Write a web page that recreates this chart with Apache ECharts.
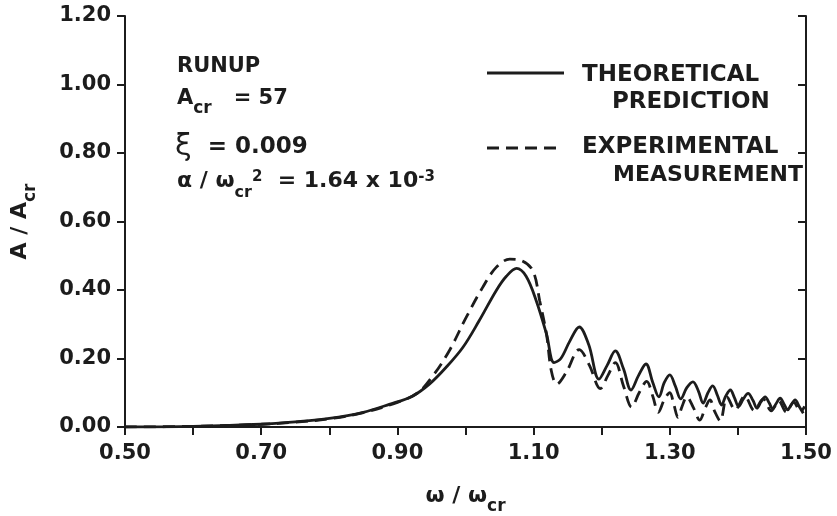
<!DOCTYPE html>
<html>
<head>
<meta charset="UTF-8">
<title>Runup response</title>
<script src="https://cdn.jsdelivr.net/npm/echarts@6/dist/echarts.min.js"></script>
<style>
  html, body { margin: 0; padding: 0; background: #fff; }
  #chart { width: 837px; height: 516px; }
</style>
</head>
<body>
<div id="chart"></div>
<script>
// omega / omega_cr and A / A_cr
var theoryX = [0.50, 0.60, 0.70, 0.75, 0.80, 0.85, 0.888, 0.922, 0.947, 0.971, 0.996, 1.020, 1.045, 1.060, 1.075, 1.089, 1.104, 1.119, 1.130,
  1.140, 1.153, 1.167, 1.181, 1.196, 1.208, 1.220, 1.232, 1.243, 1.254, 1.265, 1.275, 1.284, 1.292, 1.300, 1.308, 1.316,
  1.325, 1.334, 1.342, 1.349, 1.356, 1.363, 1.370, 1.376, 1.382, 1.389, 1.395, 1.401, 1.408, 1.415, 1.422, 1.428,
  1.434, 1.440, 1.446, 1.451, 1.456, 1.462, 1.468, 1.473, 1.478, 1.484, 1.490, 1.496];
var theoryY = [0.000, 0.002, 0.008, 0.015, 0.025, 0.043, 0.066, 0.090, 0.125, 0.173, 0.232, 0.310, 0.398, 0.440, 0.463, 0.440, 0.368, 0.271, 0.188,
  0.200, 0.250, 0.292, 0.240, 0.140, 0.180, 0.222, 0.170, 0.108, 0.150, 0.184, 0.130, 0.088, 0.130, 0.152, 0.120, 0.082,
  0.115, 0.132, 0.105, 0.070, 0.100, 0.120, 0.092, 0.064, 0.090, 0.108, 0.085, 0.060, 0.082, 0.098, 0.078, 0.055,
  0.074, 0.088, 0.070, 0.053, 0.068, 0.084, 0.066, 0.050, 0.064, 0.079, 0.060, 0.040];

var expX = [0.50, 0.60, 0.70, 0.75, 0.80, 0.85, 0.90, 0.93, 0.952, 0.976, 1.001, 1.025, 1.045, 1.065, 1.082, 1.099, 1.109, 1.119, 1.126,
  1.134, 1.148, 1.167, 1.182, 1.198, 1.209, 1.220, 1.232, 1.244, 1.255, 1.266, 1.275, 1.283, 1.292, 1.300, 1.306, 1.312,
  1.318, 1.325, 1.335, 1.344, 1.352, 1.359, 1.366, 1.374, 1.384, 1.396, 1.410, 1.424, 1.437, 1.449, 1.460, 1.471,
  1.482, 1.492, 1.498];
var expY = [0.000, 0.002, 0.008, 0.014, 0.024, 0.042, 0.072, 0.100, 0.149, 0.222, 0.320, 0.407, 0.466, 0.490, 0.486, 0.456, 0.368, 0.270, 0.164,
  0.125, 0.160, 0.226, 0.180, 0.112, 0.150, 0.188, 0.120, 0.058, 0.100, 0.133, 0.090, 0.043, 0.080, 0.100, 0.065, 0.028,
  0.060, 0.088, 0.055, 0.020, 0.055, 0.079, 0.045, 0.018, 0.088, 0.050, 0.090, 0.048, 0.082, 0.047, 0.076, 0.044,
  0.072, 0.045, 0.060];

function pairs(xs, ys) {
  var out = [];
  for (var i = 0; i < xs.length; i++) out.push([xs[i], ys[i]]);
  return out;
}

var FONT = 'DejaVu Sans';
var INK = '#1c1c1c';

// main text sits at the top of the line, subscript at the bottom, superscript at the top
function richSet(size, subSize, lineH) {
  return {
    a: { fontFamily: FONT, fontWeight: 'bold', fontSize: size, color: INK, fill: INK, lineHeight: size, verticalAlign: 'top' },
    s: { fontFamily: FONT, fontWeight: 'bold', fontSize: subSize, color: INK, fill: INK, lineHeight: lineH, verticalAlign: 'bottom' },
    p: { fontFamily: FONT, fontWeight: 'bold', fontSize: subSize - 1, color: INK, fill: INK, lineHeight: subSize, verticalAlign: 'top' }
  };
}

var chart = echarts.init(document.getElementById('chart'));

var option = {
  backgroundColor: '#ffffff',
  animation: false,
  grid: { left: 125, right: 31, top: 16, bottom: 89, containLabel: false, outerBoundsMode: 'none' },
  xAxis: [{
    type: 'value', min: 0.5, max: 1.5, interval: 0.1, position: 'bottom',
    name: '{a|ω / ω}{s|cr}', nameLocation: 'middle', nameGap: 58,
    nameTextStyle: { rich: richSet(22, 17, 30) },
    axisLine: { lineStyle: { color: INK, width: 2 } },
    axisTick: { inside: false, length: 8, lineStyle: { color: INK, width: 2 } },
    axisLabel: {
      margin: 16, fontFamily: FONT, fontWeight: 'bold', fontSize: 21, color: INK,
      formatter: function (v) { return Math.round(v * 10) % 2 === 1 ? v.toFixed(2) : ''; }
    },
    splitLine: { show: false }
  }, {
    type: 'value', min: 0.5, max: 1.5, interval: 0.1, position: 'top',
    axisLine: { lineStyle: { color: INK, width: 2 } },
    axisTick: { inside: true, length: 8, lineStyle: { color: INK, width: 2 } },
    axisLabel: { show: false },
    splitLine: { show: false }
  }],
  yAxis: [{
    type: 'value', min: 0, max: 1.2, interval: 0.2, position: 'left',
    name: '{a|A / A}{s|cr}', nameLocation: 'middle', nameGap: 86, nameRotate: 90,
    nameTextStyle: { rich: richSet(22, 17, 30) },
    axisLine: { show: true, lineStyle: { color: INK, width: 2 } },
    axisTick: { show: true, inside: false, length: 8, lineStyle: { color: INK, width: 2 } },
    axisLabel: {
      margin: 14, fontFamily: FONT, fontWeight: 'bold', fontSize: 21, color: INK,
      formatter: function (v) { return v.toFixed(2); }
    },
    splitLine: { show: false }
  }, {
    type: 'value', min: 0, max: 1.2, interval: 0.2, position: 'right',
    axisLine: { show: true, lineStyle: { color: INK, width: 2 } },
    axisTick: { show: true, inside: true, length: 8, lineStyle: { color: INK, width: 2 } },
    axisLabel: { show: false },
    splitLine: { show: false }
  }],
  series: [{
    name: 'THEORETICAL PREDICTION',
    type: 'line', xAxisIndex: 0, yAxisIndex: 0,
    data: pairs(theoryX, theoryY),
    smooth: 0.35, symbol: 'none',
    lineStyle: { color: INK, width: 2.8, type: 'solid' }
  }, {
    name: 'EXPERIMENTAL MEASUREMENT',
    type: 'line', xAxisIndex: 0, yAxisIndex: 0,
    data: pairs(expX, expY),
    smooth: 0.35, symbol: 'none',
    lineStyle: { color: INK, width: 2.8, type: [12, 7] }
  }],
  graphic: [
    // parameter block
    { type: 'text', x: 177, y: 56, style: { text: 'RUNUP', font: 'bold 21px ' + FONT, fill: INK } },
    { type: 'text', x: 177, y: 88, style: { text: '{a|A}{s|cr}{a|   = 57}', rich: richSet(21, 17, 29) } },
    { type: 'text', x: 175, y: 147, style: {
        text: '{x|ξ}{a|  = 0.009}',
        rich: {
          x: { fontFamily: FONT, fontSize: 30, fill: INK, verticalAlign: 'middle' },
          a: { fontFamily: FONT, fontWeight: 'bold', fontSize: 23, fill: INK, verticalAlign: 'middle' }
        },
        verticalAlign: 'middle'
      } },
    { type: 'text', x: 177, y: 170, style: { text: '{a|α / ω}{s|cr}{p|2}{a|  = 1.64 x 10}{p|-3}', rich: richSet(22, 16, 31) } },
    // legend
    { type: 'line', shape: { x1: 487, y1: 73, x2: 564, y2: 73 }, style: { stroke: INK, lineWidth: 2.8 } },
    { type: 'text', x: 582, y: 75, style: { text: 'THEORETICAL', font: 'bold 23px ' + FONT, fill: INK, verticalAlign: 'middle' } },
    { type: 'text', x: 612, y: 102, style: { text: 'PREDICTION', font: 'bold 23px ' + FONT, fill: INK, verticalAlign: 'middle' } },
    { type: 'line', shape: { x1: 487, y1: 148, x2: 560, y2: 148 }, style: { stroke: INK, lineWidth: 2.8, lineDash: [12, 7] } },
    { type: 'text', x: 582, y: 147, style: { text: 'EXPERIMENTAL', font: 'bold 23px ' + FONT, fill: INK, verticalAlign: 'middle' } },
    { type: 'text', x: 613, y: 175, style: { text: 'MEASUREMENT', font: 'bold 22px ' + FONT, fill: INK, verticalAlign: 'middle' } }
  ]
};

chart.setOption(option);
</script>
</body>
</html>
